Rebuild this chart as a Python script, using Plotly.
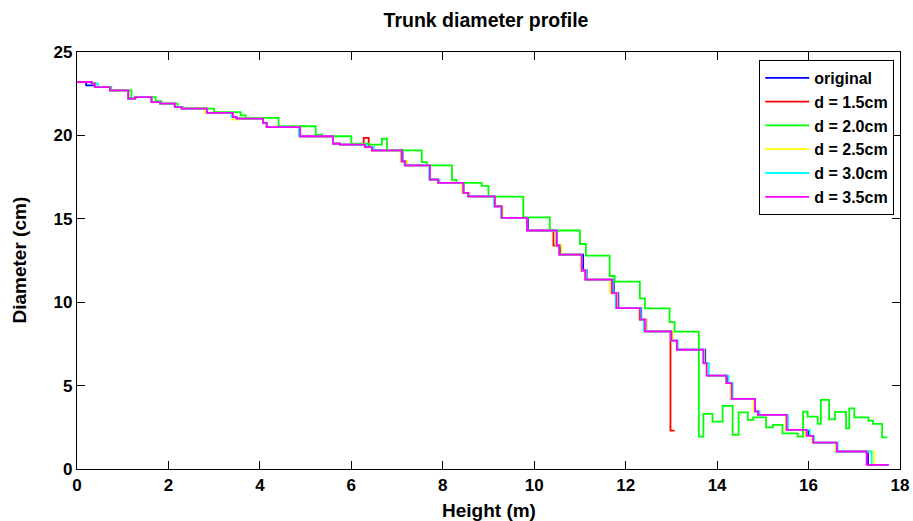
import plotly.graph_objects as go

# ---- data (height in m, diameter in cm), stair-step profiles ----
X_ORIG = [0, 0.2, 0.35, 0.42, 0.72, 1.12, 1.27, 1.63, 1.82, 2.14, 2.29, 2.84, 3.41, 3.49, 4.07, 4.15, 4.88,
          5.6, 5.75, 6.3, 6.45, 7.12, 7.2, 7.72, 7.9, 8.45, 8.56, 9.14, 9.29, 9.86, 10.49, 10.57, 11.07,
          11.15, 11.74, 11.84, 12.34, 12.45, 13.0, 13.12, 13.74, 13.8, 14.22, 14.3, 14.83, 14.9, 15.52,
          16.0, 16.1, 16.6, 17.3, 17.75]
Y_ORIG = [23.2, 23.0, 23.1, 22.9, 22.7, 22.2, 22.3, 22.0, 21.9, 21.7, 21.6, 21.35, 21.1, 21.0, 20.75, 20.5,
          19.95, 19.5, 19.45, 19.3, 19.1, 18.45, 18.2, 17.35, 17.15, 16.55, 16.35, 15.75, 15.05, 14.3, 13.4,
          12.85, 11.9, 11.35, 10.55, 9.65, 8.95, 8.25, 7.7, 7.15, 6.35, 5.6, 5.15, 4.2, 3.45, 3.25, 2.35,
          1.98, 1.58, 1.05, 0.25, 0.25]

X_D15 = [0, 0.32, 0.39, 0.72, 1.12, 1.27, 1.63, 1.82, 2.14, 2.29, 2.84, 3.41, 3.49, 4.07, 4.15, 4.88, 5.6,
         5.75, 6.27, 6.38, 6.45, 7.1, 7.17, 7.72, 7.9, 8.45, 8.56, 9.14, 9.29, 9.84, 10.42, 10.55, 11.02,
         11.12, 11.68, 11.8, 12.31, 12.42, 12.98, 13.07]
Y_D15 = [23.2, 23.1, 22.9, 22.7, 22.2, 22.3, 22.0, 21.9, 21.7, 21.6, 21.35, 21.1, 21.0, 20.75, 20.5, 19.95,
         19.5, 19.45, 19.85, 19.3, 19.1, 18.45, 18.2, 17.35, 17.15, 16.55, 16.35, 15.75, 15.05, 14.3, 13.4,
         12.85, 11.9, 11.35, 10.55, 9.65, 8.95, 8.25, 2.3, 2.3]

X_D20 = [0, 0.32, 0.45, 0.75, 1.19, 1.3, 1.72, 1.85, 2.2, 2.32, 3.0, 3.58, 3.69, 4.41, 5.22, 5.36, 6.0,
         6.37, 6.67, 6.78, 7.54, 7.65, 8.2, 8.3, 8.85, 9.0, 9.76, 10.34, 11.0, 11.13, 11.65, 11.76, 12.31,
         12.42, 12.96, 13.07, 13.6, 13.7, 13.9, 14.12, 14.34, 14.47, 14.67, 14.79, 15.07, 15.22, 15.43,
         15.76, 15.88, 15.98, 16.2, 16.27, 16.45, 16.58, 16.82, 16.89, 17.0, 17.31, 17.41, 17.61, 17.72]
Y_D20 = [23.2, 23.1, 22.9, 22.7, 22.25, 22.3, 22.05, 21.9, 21.7, 21.6, 21.4, 21.2, 21.05, 20.55, 20.05,
         19.95, 19.5, 19.45, 19.8, 19.1, 18.4, 18.2, 17.33, 17.15, 16.97, 16.33, 15.09, 14.3, 13.49, 12.79,
         11.57, 11.23, 10.23, 9.63, 8.8, 8.23, 1.94, 3.3, 2.84, 3.78, 2.04, 3.4, 2.94, 3.1, 2.5, 2.64, 2.14,
         1.94, 3.44, 3.14, 2.7, 4.14, 2.98, 3.42, 2.44, 3.64, 3.1, 2.9, 2.7, 1.9, 1.9]

X_D25 = [0, 0.32, 0.42, 0.72, 1.12, 1.27, 1.63, 1.82, 2.14, 2.29, 2.8, 3.41, 3.52, 4.07, 4.15, 4.88, 5.6,
         5.75, 6.3, 6.45, 7.08, 7.22, 7.72, 7.9, 8.42, 8.58, 9.14, 9.31, 9.84, 10.47, 10.6, 11.02, 11.14,
         11.66, 11.82, 12.29, 12.44, 13.03, 13.12, 13.72, 13.8, 14.2, 14.3, 14.8, 14.92, 15.5, 15.93, 16.08,
         16.6, 17.43, 17.7]
Y_D25 = [23.2, 23.1, 22.9, 22.7, 22.2, 22.3, 22.0, 21.9, 21.7, 21.6, 21.35, 20.95, 21.0, 20.75, 20.5,
         19.95, 19.5, 19.45, 19.3, 19.1, 18.45, 18.2, 17.35, 17.15, 16.55, 16.35, 15.75, 15.05, 14.3, 13.4,
         12.85, 11.9, 11.35, 10.55, 9.65, 8.95, 8.25, 7.7, 7.15, 6.35, 5.6, 5.15, 4.2, 3.45, 3.25, 2.35,
         1.98, 1.58, 1.05, 0.25, 0.25]

X_D30 = [0, 0.3, 0.45, 0.72, 1.12, 1.27, 1.63, 1.82, 2.14, 2.29, 2.84, 3.38, 3.49, 4.07, 4.15, 4.85, 5.6,
         5.75, 6.33, 6.5, 7.1, 7.17, 7.7, 7.93, 8.45, 8.56, 9.12, 9.27, 9.84, 10.49, 10.55, 11.04, 11.14,
         11.72, 11.78, 12.33, 12.4, 13.0, 13.14, 13.7, 13.82, 14.25, 14.34, 14.83, 14.93, 15.55, 16.03,
         16.12, 16.64, 17.38, 17.72]
Y_D30 = [23.2, 23.1, 22.9, 22.7, 22.2, 22.3, 22.0, 21.9, 21.7, 21.6, 21.35, 21.1, 21.0, 20.75, 20.5,
         19.95, 19.5, 19.45, 19.3, 19.1, 18.45, 18.2, 17.35, 17.15, 16.55, 16.35, 15.75, 15.05, 14.3, 13.4,
         12.85, 11.9, 11.35, 10.55, 9.65, 8.95, 8.25, 7.7, 7.15, 6.35, 5.6, 5.15, 4.2, 3.45, 3.25, 2.35,
         1.98, 1.58, 1.05, 0.25, 0.25]

X_D35 = [0, 0.32, 0.39, 0.72, 1.12, 1.27, 1.63, 1.82, 2.14, 2.29, 2.84, 3.41, 3.49, 4.07, 4.15, 4.88, 5.6,
         5.75, 6.3, 6.45, 7.1, 7.17, 7.72, 7.9, 8.45, 8.56, 9.14, 9.29, 9.84, 10.49, 10.55, 11.04, 11.12,
         11.7, 11.8, 12.31, 12.42, 13.0, 13.12, 13.7, 13.77, 14.2, 14.32, 14.83, 14.9, 15.52, 15.96, 16.1,
         16.62, 17.27, 17.75]
Y_D35 = [23.2, 23.1, 22.9, 22.7, 22.2, 22.3, 22.0, 21.9, 21.7, 21.6, 21.35, 21.1, 21.0, 20.75, 20.5,
         19.95, 19.5, 19.45, 19.3, 19.1, 18.45, 18.2, 17.35, 17.15, 16.55, 16.35, 15.75, 15.05, 14.3, 13.4,
         12.85, 11.9, 11.35, 10.55, 9.65, 8.95, 8.25, 7.7, 7.15, 6.35, 5.6, 5.15, 4.2, 3.45, 3.25, 2.35,
         1.98, 1.58, 1.05, 0.25, 0.25]

SERIES_NAMES = ["original", "d = 1.5cm", "d = 2.0cm", "d = 2.5cm", "d = 3.0cm", "d = 3.5cm"]
SERIES_X = [X_ORIG, X_D15, X_D20, X_D25, X_D30, X_D35]
SERIES_Y = [Y_ORIG, Y_D15, Y_D20, Y_D25, Y_D30, Y_D35]
COLORS = ["#0000FF", "#FF0000", "#00FF00", "#FFFF00", "#00FFFF", "#FF00FF"]

X_TICKS = [0, 2, 4, 6, 8, 10, 12, 14, 16, 18]
Y_TICKS = [0, 5, 10, 15, 20, 25]

FONT = "Liberation Sans, Arial, Helvetica, sans-serif"

fig = go.Figure()
for name, xs, ys, c in zip(SERIES_NAMES, SERIES_X, SERIES_Y, COLORS):
    fig.add_trace(go.Scatter(x=xs, y=ys, mode="lines", name=name,
                             line=dict(color=c, width=1.8, shape="hv")))

axis_common = dict(showline=True, linecolor="black", linewidth=1.2, mirror="ticks",
                   ticks="inside", ticklen=8, tickwidth=1, tickcolor="black",
                   showgrid=False, zeroline=False,
                   tickfont=dict(family=FONT, size=17, color="black", weight="bold"))

fig.update_layout(
    width=913, height=521,
    margin=dict(l=77, r=13, t=52, b=52, autoexpand=False),
    paper_bgcolor="white", plot_bgcolor="white",
    showlegend=True,
    title=dict(text="Trunk diameter profile", x=0.497, xref="paper", xanchor="center",
               y=1 - 20 / 521, yref="container", yanchor="middle",
               font=dict(family=FONT, size=19.5, color="black", weight="bold")),
    legend=dict(x=0.993, y=0.981, xanchor="right", yanchor="top",
                bgcolor="white", bordercolor="black", borderwidth=1,
                itemwidth=44, tracegroupgap=0,
                font=dict(family=FONT, size=16, color="black", weight="bold")),
    xaxis=dict(range=[0, 18], tickvals=X_TICKS, ticktext=[str(v) for v in X_TICKS], **axis_common),
    yaxis=dict(range=[0, 25], tickvals=Y_TICKS, ticktext=[str(v) for v in Y_TICKS], **axis_common),
    annotations=[
        dict(text="Height (m)", xref="paper", yref="paper", x=0.5, y=(469 - 510) / 417,
             xanchor="center", yanchor="middle", showarrow=False,
             font=dict(family=FONT, size=19, color="black", weight="bold")),
        dict(text="Diameter (cm)", xref="paper", yref="paper", x=(19 - 77) / 823, y=0.5,
             xanchor="center", yanchor="middle", textangle=-90, showarrow=False,
             font=dict(family=FONT, size=19, color="black", weight="bold")),
    ],
)

fig.write_html("out.html", config={"displayModeBar": False},
               post_script="document.body.style.margin='0';document.body.style.overflow='hidden';")
